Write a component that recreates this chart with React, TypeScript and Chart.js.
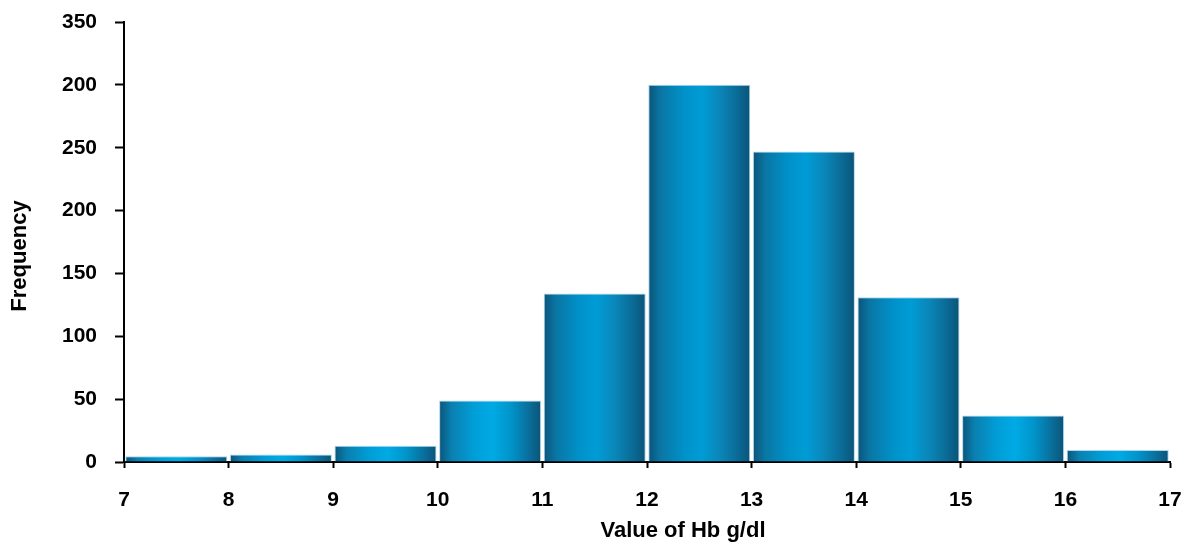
import React, { useEffect, useRef } from "react";
import { Chart, registerables } from "chart.js";

Chart.register(...registerables);

const binStarts = [7, 8, 9, 10, 11, 12, 13, 14, 15, 16];
const frequencies = [4.5, 6, 13, 49, 134, 300, 247, 131, 37, 9.5];
const yTickLabels = ["0", "50", "100", "150", "200", "250", "200", "350"];
const xTitle = "Value of Hb g/dl";
const yTitle = "Frequency";

const FONT = '"Liberation Sans", Arial, Helvetica, sans-serif';

const axisTitlesPlugin = {
  id: "axisTitles",
  afterDraw(chart: any) {
    const ctx = chart.ctx;
    ctx.save();
    ctx.fillStyle = "#000";
    ctx.font = `bold 22px ${FONT}`;
    ctx.textAlign = "center";
    ctx.textBaseline = "middle";
    ctx.fillText(xTitle, 683, 531);
    ctx.translate(20, 256);
    ctx.rotate(-Math.PI / 2);
    ctx.fillText(yTitle, 0, 0);
    ctx.restore();
  },
};

export default function App() {
  const ref = useRef<HTMLCanvasElement | null>(null);

  useEffect(() => {
    document.body.style.margin = "0";
    const canvas = ref.current;
    if (!canvas) return;
    const data = binStarts.map((b, i) => ({ x: b + 0.5, y: frequencies[i] }));
    const chart = new Chart(canvas, {
      type: "bar",
      data: {
        datasets: [
          {
            data: data as any,
            backgroundColor: (c: any) => {
              const ch = c.chart;
              const xs = ch.scales && ch.scales.x;
              if (!xs || c.type !== "data" || !c.raw) return "#0090c8";
              const l = xs.getPixelForValue(c.raw.x - 0.5);
              const r = xs.getPixelForValue(c.raw.x + 0.5);
              if (!isFinite(l) || !isFinite(r)) return "#0090c8";
              const short = c.raw.y < 100;
              const g = ch.ctx.createLinearGradient(l, 0, r, 0);
              g.addColorStop(0, "#0b5073");
              g.addColorStop(0.13, short ? "#0a80b0" : "#0a76a4");
              g.addColorStop(0.35, short ? "#009ed8" : "#0091c9");
              g.addColorStop(0.52, short ? "#00aae4" : "#009cd6");
              g.addColorStop(0.7, short ? "#0094ca" : "#0a86b8");
              g.addColorStop(0.88, short ? "#0a6c98" : "#0a6892");
              g.addColorStop(1, "#0b5174");
              return g;
            },
            borderColor: "rgba(165,212,238,0.95)",
            borderWidth: 1,
            barPercentage: 0.975,
            categoryPercentage: 1,
          },
        ],
      },
      options: {
        animation: false,
        responsive: false,
        devicePixelRatio: 1,
        layout: { padding: { top: 22, right: 14, bottom: 0, left: 0 } },
        plugins: { legend: { display: false }, tooltip: { enabled: false } },
        scales: {
          x: {
            type: "linear",
            min: 7,
            max: 17,
            offset: false,
            afterFit: (s: any) => {
              s.height = 82;
              s.paddingLeft = 0;
              s.paddingRight = 0;
            },
            ticks: {
              stepSize: 1,
              padding: 20,
              color: "#000",
              font: { family: FONT, size: 21, weight: "bold" },
            },
            grid: {
              display: true,
              drawOnChartArea: false,
              drawTicks: true,
              tickLength: 6,
              tickWidth: 2,
              tickColor: "#000",
              offset: false,
            },
            border: { display: true, color: "#000", width: 2 },
          },
          y: {
            min: 0,
            max: 350,
            afterFit: (s: any) => {
              s.width = 124;
              s.paddingTop = 0;
              s.paddingBottom = 0;
            },
            ticks: {
              stepSize: 50,
              padding: 18,
              color: "#000",
              font: { family: FONT, size: 21, weight: "bold" },
              callback: (_v: any, i: number) => yTickLabels[i],
            },
            grid: {
              display: true,
              drawOnChartArea: false,
              drawTicks: true,
              tickLength: 9,
              tickWidth: 2,
              tickColor: "#000",
            },
            border: { display: true, color: "#000", width: 2 },
          },
        },
      },
      plugins: [axisTitlesPlugin],
    });
    return () => chart.destroy();
  }, []);

  return (
    <div style={{ width: 1184, height: 544, position: "relative", background: "#fff" }}>
      <canvas ref={ref} width={1184} height={544} />
    </div>
  );
}
